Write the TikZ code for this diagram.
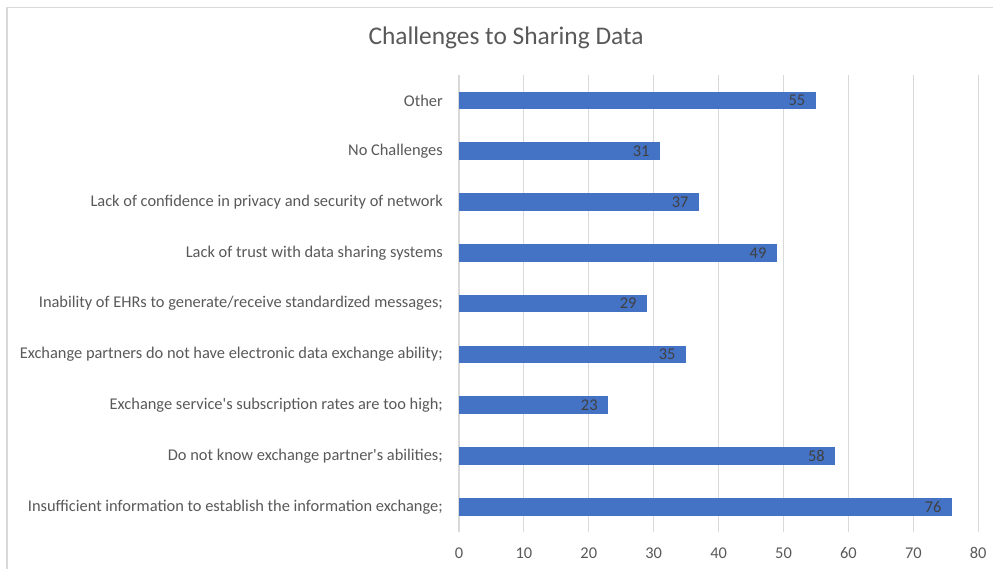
\documentclass[tikz,border=0pt]{standalone}
\usepackage{fontspec}
\setmainfont{Carlito}
\definecolor{bartone}{HTML}{4472C4}
\definecolor{gridtone}{HTML}{D9D9D9}
\definecolor{texttone}{HTML}{595959}
\definecolor{valtone}{HTML}{404040}
\begin{document}
\begin{tikzpicture}[x=1pt,y=-1pt,
  catlabel/.style={anchor=east,inner sep=0pt,text=texttone,font=\fontsize{16.4}{18}\selectfont},
  vallabel/.style={anchor=east,inner sep=0pt,text=valtone,font=\fontsize{16.4}{18}\selectfont},
  ticklabel/.style={anchor=center,inner sep=0pt,text=texttone,font=\fontsize{16.4}{18}\selectfont},
  gridline/.style={draw=gridtone,line width=1.1pt},
  barbox/.style={fill=bartone}]
\useasboundingbox (0,0) rectangle (993,569);
\fill[white] (0,0) rectangle (993,569);
% chart frame (top and left edges)
\coordinate (frameTR) at (993,7.5);
\coordinate (frameTL) at (7,7.5);
\coordinate (frameBL) at (7,569);
\draw[draw=gridtone,line width=1.6pt] (frameTR) -- (frameTL) -- (frameBL);
% title
\node[text=texttone,font=\fontsize{25.4}{28}\selectfont,inner sep=0pt] (title) at (506,38) {Challenges to Sharing Data};
% vertical gridlines and value axis labels
\foreach \v [count=\k] in {0,10,...,80}{
  \coordinate (gtop\k) at ({459+6.49*\v},75);
  \coordinate (gbot\k) at ({459+6.49*\v},532);
  \draw[gridline] (gtop\k) -- (gbot\k);
  \node[ticklabel] (tick\k) at ({459+6.49*\v},553) {\v};
}
% bars, category labels and value labels
\foreach \val/\txt [count=\i from 0] in {
  55/{Other},
  31/{No Challenges},
  37/{Lack of confidence in privacy and security of network},
  49/{Lack of trust with data sharing systems},
  29/{Inability of EHRs to generate/receive standardized messages;},
  35/{Exchange partners do not have electronic data exchange ability;},
  23/{Exchange service\textquotesingle s subscription rates are too high;},
  58/{Do not know exchange partner\textquotesingle s abilities;},
  76/{Insufficient information to establish the information exchange;}}{
  \pgfmathsetmacro{\yc}{100.4+50.8*\i}
  \node[catlabel] (cat\i) at (443,\yc) {\txt};
  \fill[barbox] (459,\yc-8.75) rectangle ({459+6.49*\val},\yc+8.75);
  \coordinate (barend\i) at ({459+6.49*\val},\yc);
  \node[vallabel] (val\i) at ([xshift=-10.5pt]barend\i) {\val};
}
\end{tikzpicture}
\end{document}
